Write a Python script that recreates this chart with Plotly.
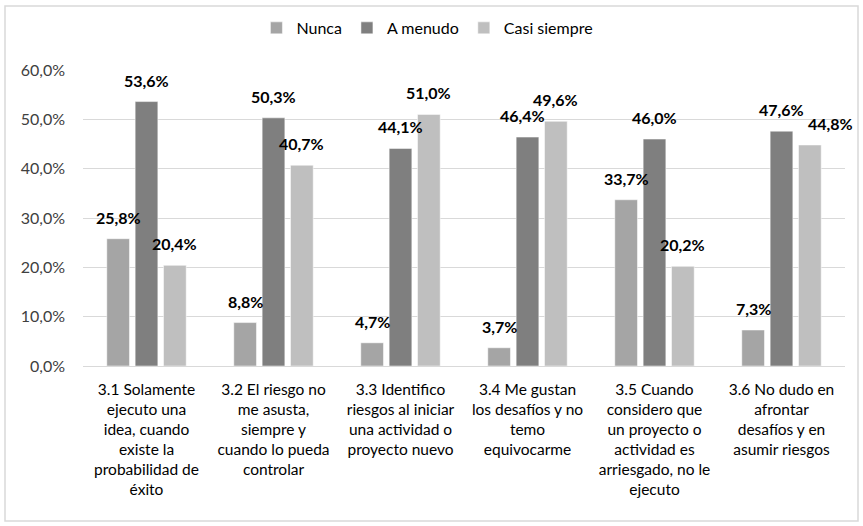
import plotly.graph_objects as go

categories = [
    "3.1 Solamente<br>ejecuto una<br>idea, cuando<br>existe la<br>probabilidad de<br>éxito",
    "3.2 El riesgo no<br>me asusta,<br>siempre y<br>cuando lo pueda<br>controlar",
    "3.3 Identifico<br>riesgos al iniciar<br>una actividad o<br>proyecto nuevo",
    "3.4 Me gustan<br>los desafíos y no<br>temo<br>equivocarme",
    "3.5 Cuando<br>considero que<br>un proyecto o<br>actividad es<br>arriesgado, no le<br>ejecuto",
    "3.6 No dudo en<br>afrontar<br>desafíos y en<br>asumir riesgos",
]
nunca = [0.258, 0.088, 0.047, 0.037, 0.337, 0.073]
a_menudo = [0.536, 0.503, 0.441, 0.464, 0.460, 0.476]
casi_siempre = [0.204, 0.407, 0.510, 0.496, 0.202, 0.448]
y_ticks = [0, 0.1, 0.2, 0.3, 0.4, 0.5, 0.6]

series = [("Nunca", nunca, "#A5A5A5"), ("A menudo", a_menudo, "#7F7F7F"), ("Casi siempre", casi_siempre, "#BFBFBF")]
# label nudges (px) used in the original to avoid overlapping labels
label_nudge = {(1, 3): -5, (2, 5): 21}

x = list(range(len(categories)))
BARGAP = 0.33
slot = (1 - BARGAP) / 3

FONT = "Lato, 'Open Sans', sans-serif"
fig = go.Figure()
annotations = []
for s, (name, vals, col) in enumerate(series):
    fig.add_trace(go.Bar(
        x=x, y=vals, name=name,
        marker=dict(color=col, line=dict(color="#FFFFFF", width=0.5)),
    ))
    for i, v in enumerate(vals):
        annotations.append(dict(
            x=i + (s - 1) * slot, y=v, xref="x", yref="y",
            text=f"{v * 100:.1f}%".replace(".", ","),
            showarrow=False, yanchor="bottom", xanchor="center",
            yshift=10, xshift=label_nudge.get((s, i), 0),
            font=dict(family=FONT, size=16, color="#000000", weight="bold"),
        ))

fig.update_layout(
    width=863, height=526,
    paper_bgcolor="white", plot_bgcolor="white",
    separators=",.",
    barmode="group", bargap=BARGAP, bargroupgap=0.2,
    margin=dict(l=83, r=18, t=70, b=160, autoexpand=False),
    font=dict(family=FONT, size=15.5, color="#000000"),
    showlegend=True,
    legend=dict(orientation="h", x=0.452, xanchor="center", y=1.142, yanchor="middle",
                font=dict(family=FONT, size=16, color="#000000"), traceorder="normal"),
    xaxis=dict(tickmode="array", tickvals=x, ticktext=categories, range=[-0.5, 5.5],
               showgrid=False, zeroline=False, showline=False, ticks="",
               ticklabelstandoff=12,
               tickfont=dict(family=FONT, size=15.5, color="#000000")),
    yaxis=dict(range=[0, 0.6], tickvals=y_ticks, tickformat=".1%",
               showgrid=True, gridcolor="#D9D9D9", gridwidth=1,
               zeroline=True, zerolinecolor="#D9D9D9", zerolinewidth=1,
               showline=False, ticks="", ticklabelstandoff=17,
               tickfont=dict(family=FONT, size=16, color="#404040")),
    annotations=annotations,
    shapes=[dict(type="rect", xref="paper", yref="paper",
                 x0=(5 - 83) / 762, x1=(858 - 83) / 762,
                 y0=1 - (521 - 70) / 296, y1=1 + (70 - 6) / 296,
                 line=dict(color="#D9D9D9", width=1.5), fillcolor="rgba(0,0,0,0)", layer="below")],
)

fig.write_html("out.html", config={"displayModeBar": False},
               post_script="document.body.style.margin='0';")
